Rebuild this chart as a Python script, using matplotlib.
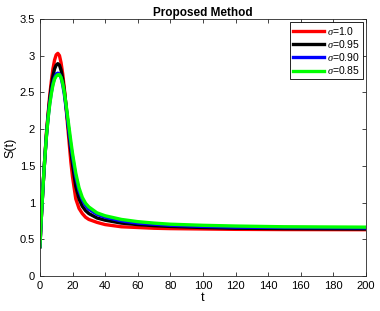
import numpy as np
import matplotlib
matplotlib.use("Agg")
import matplotlib.pyplot as plt

plt.rcParams['font.family'] = ['Liberation Sans', 'DejaVu Sans']
plt.rcParams['mathtext.fontset'] = 'custom'
plt.rcParams['mathtext.it'] = 'Liberation Serif:italic'

t = [0, 1, 2, 3, 4, 5, 6, 7, 8, 9, 10, 11, 12, 13, 14, 15, 16, 17, 18, 19, 20,
     22, 24, 26, 28, 30, 35, 40, 50, 60, 70, 80, 100, 120, 150, 200]

s_100 = [0.4, 0.85, 1.25, 1.6, 1.95, 2.2, 2.45, 2.65, 2.82, 2.94, 3.01, 3.03, 3.0, 2.9,
         2.75, 2.55, 2.3, 2.05, 1.8, 1.55, 1.35, 1.05, 0.92, 0.85, 0.8, 0.77, 0.73, 0.7,
         0.67, 0.66, 0.65, 0.645, 0.64, 0.635, 0.632, 0.63]
s_095 = [0.4, 0.85, 1.25, 1.6, 1.92, 2.18, 2.4, 2.58, 2.72, 2.82, 2.87, 2.89, 2.87, 2.8,
         2.68, 2.52, 2.33, 2.12, 1.9, 1.7, 1.52, 1.22, 1.05, 0.95, 0.89, 0.85, 0.79, 0.76,
         0.72, 0.7, 0.685, 0.675, 0.66, 0.65, 0.645, 0.64]
s_090 = [0.4, 0.85, 1.25, 1.6, 1.9, 2.15, 2.35, 2.5, 2.62, 2.7, 2.75, 2.76, 2.75, 2.7,
         2.6, 2.47, 2.3, 2.12, 1.94, 1.77, 1.62, 1.35, 1.16, 1.04, 0.96, 0.91, 0.84, 0.8,
         0.75, 0.72, 0.705, 0.69, 0.675, 0.665, 0.66, 0.655]
s_085 = [0.4, 0.85, 1.25, 1.6, 1.9, 2.14, 2.33, 2.48, 2.6, 2.68, 2.72, 2.74, 2.74, 2.7,
         2.62, 2.5, 2.34, 2.17, 2.0, 1.83, 1.67, 1.4, 1.2, 1.07, 0.99, 0.94, 0.86, 0.82,
         0.77, 0.74, 0.72, 0.705, 0.69, 0.68, 0.67, 0.665]

labels = [r'$\mathit{\sigma}$=1.0', r'$\mathit{\sigma}$=0.95',
          r'$\mathit{\sigma}$=0.90', r'$\mathit{\sigma}$=0.85']
colors = ['#ff0000', '#000000', '#0000ff', '#00ff00']

fig = plt.figure(figsize=(3.8, 3.11), dpi=100)
ax = fig.add_axes([0.105, 0.1125, 0.858, 0.827])

for s, lab, c in zip([s_100, s_095, s_090, s_085], labels, colors):
    ax.plot(t, s, color=c, lw=2.4, label=lab)

ax.set_xlim(0, 200)
ax.set_ylim(0, 3.5)
ax.set_xticks(np.arange(0, 201, 20))
ax.set_yticks(np.arange(0, 3.6, 0.5))
ax.set_yticklabels(['0', '0.5', '1', '1.5', '2', '2.5', '3', '3.5'])
ax.tick_params(direction='in', top=True, right=True, labelsize=8, length=3,
               width=0.6, color='#262626')
for sp in ax.spines.values():
    sp.set_linewidth(0.6)
    sp.set_color('#262626')

ax.set_xlabel('t', fontsize=9, labelpad=1)
ax.set_ylabel('S(t)', fontsize=9, labelpad=2)
ax.set_title('Proposed Method', fontsize=8.5, fontweight='bold', pad=2)

leg = ax.legend(loc='upper right', bbox_to_anchor=(0.99, 0.988), borderaxespad=0,
                fontsize=7.5, handlelength=2.9, handletextpad=0.3, borderpad=0.3,
                labelspacing=0.1, fancybox=False, framealpha=1)
leg.get_frame().set_edgecolor('black')
leg.get_frame().set_linewidth(0.6)

fig.savefig('out.png', dpi=100)
